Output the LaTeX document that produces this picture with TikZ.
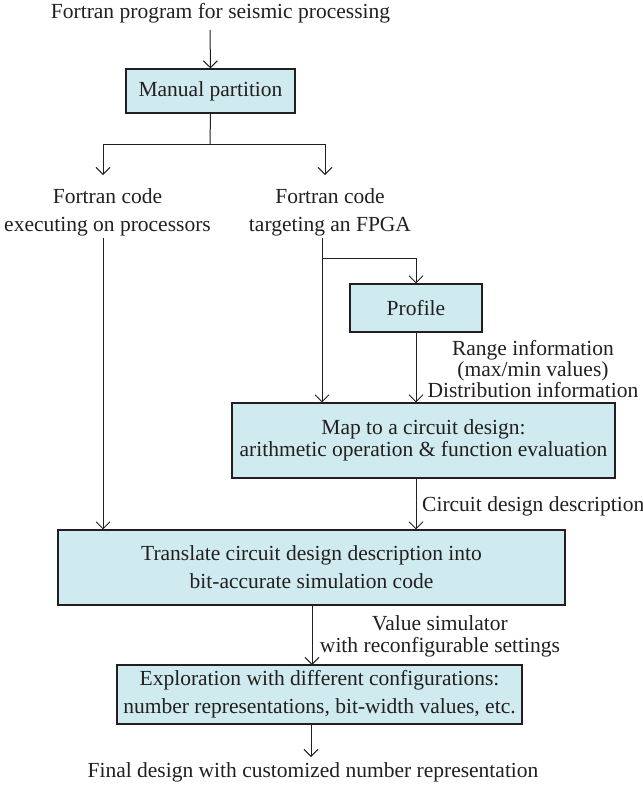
\documentclass[tikz,border=0pt]{standalone}
\usepackage{fontspec}
\setmainfont{Liberation Serif}
\usetikzlibrary{arrows.meta,calc}
\definecolor{boxfill}{RGB}{207,235,239}
\definecolor{ink}{RGB}{35,31,32}
\newcommand{\fsA}{\fontsize{21.5}{28}\selectfont}
\newcommand{\fsB}{\fontsize{21.5}{22.5}\selectfont}
\newcommand{\fsC}{\fontsize{21.5}{21}\selectfont}
\begin{document}
\begin{tikzpicture}[x=1pt,y=-1pt,
  box/.style={draw=ink, fill=boxfill, line width=1.1pt, inner sep=0pt, align=center, text=ink},
  lbl/.style={inner sep=0pt, align=center, text=ink},
  arr/.style={-{Straight Barb[length=7pt,width=14pt]}, line width=1pt, draw=ink},
  ln/.style={line width=1pt, draw=ink}]
\useasboundingbox (0,0) rectangle (643,788);
% text labels
\node[lbl, font=\fsA, anchor=base] (top) at (220.5,18.5) {Fortran program for seismic processing};
\node[lbl, font=\fsA] (fl) at (107.5,212.5) {Fortran code\\executing on processors};
\node[lbl, font=\fsA] (fr) at (330,212.5) {Fortran code\\targeting an FPGA};
\node[lbl, font=\fsC] (rng) at (533,369) {Range information\\(max/min values)\\Distribution information};
\node[lbl, font=\fsA, anchor=base west] (cdd) at (422,511) {Circuit design description};
\node[lbl, font=\fsB] (vs) at (440,636.5) {Value simulator\\with reconfigurable settings};
\node[lbl, font=\fsA, anchor=base] (fin) at (313,777) {Final design with customized number representation};
% boxes
\node[box, font=\fsA, minimum width=169pt, minimum height=44pt] (mp) at (210.5,91) {Manual partition};
\node[box, font=\fsA, minimum width=132pt, minimum height=48pt] (pr) at (416,308) {Profile};
\node[box, font=\fsB, minimum width=383pt, minimum height=75pt] (map) at (423.5,440.5) {Map to a circuit design:\\arithmetic operation \& function evaluation};
\node[box, font=\fsA, minimum width=507pt, minimum height=75pt] (tr) at (311.5,567.5) {Translate circuit design description into\\bit-accurate simulation code};
\node[box, font=\fsA, minimum width=405pt, minimum height=59pt] (ex) at (319.5,694.5) {Exploration with different configurations:\\number representations, bit-width values, etc.};
% coordinates
\coordinate (t0) at (210,30);
\coordinate (sp) at (210,144);
\coordinate (sl) at (103,144);
\coordinate (sr) at (325,144);
\coordinate (l0) at (103,238);
\coordinate (r0) at (322,238);
\coordinate (rb) at (322,258);
% connectors
\draw[arr] (t0) -- (mp.north);
\draw[ln] (mp.south) -- (sp);
\draw[ln] (sl) -- (sr);
\draw[arr] (sl) -- (103,175);
\draw[arr] (sr) -- (325,175);
\draw[arr] (l0) -- (l0 |- tr.north);
\draw[arr] (r0) -- (r0 |- map.north);
\draw[arr] (rb) -| (pr.north);
\draw[arr] (pr.south) -- (pr.south |- map.north);
\draw[arr] (map.south -| pr.south) -- (pr.south |- tr.north);
\draw[arr] (tr.south -| 312,0) -- (312,665);
\draw[arr] (ex.south -| 311,0) -- (311,757);
\end{tikzpicture}
\end{document}
